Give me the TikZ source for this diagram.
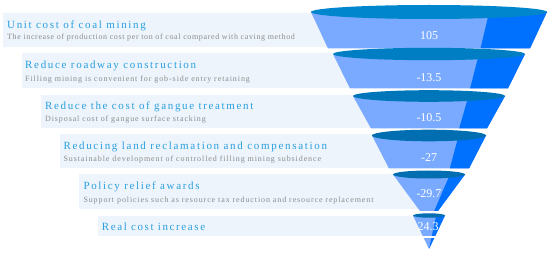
\documentclass[tikz,border=0pt]{standalone}
\usepackage{fontspec}
\usepackage{xstring}
\setmainfont{Liberation Serif}
\usetikzlibrary{calc}
\definecolor{barbg}{HTML}{EDF4FB}
\definecolor{ttlc}{HTML}{2A9FDF}
\definecolor{subc}{HTML}{8C8C8C}
\definecolor{bodyc}{HTML}{7AAAFF}
\definecolor{stripc}{HTML}{0070FF}
\definecolor{ellA}{HTML}{0086CC}
\definecolor{ellB}{HTML}{007EC4}
\definecolor{ellC}{HTML}{0076BA}
\definecolor{ellD}{HTML}{006EB0}
\newlength\natw
% #1 font size (pt), #2 target width (pt), #3 text
\newcommand\spc[3]{%
  \fontsize{#1}{#1}\selectfont
  \settowidth\natw{#3}%
  \StrLen{#3}[\nch]%
  \pgfmathsetmacro\lsp{100*(#2-\natw/1pt)/(\nch*#1)}%
  \edef\tmpfeat{\noexpand\addfontfeature{LetterSpace=\lsp}}\tmpfeat
  #3%
}
\newcommand\fseg[8]{% cx cy rx ry by hb f ellcolor
  \begin{scope}
    \clip (#1-#3,#2) -- (#1-#6,#5) -- (#1+#6,#5) -- (#1+#3,#2) -- cycle;
    \fill[bodyc] (#1-#3-2,#2-2) rectangle (#1+#3+2,#5+2);
    \fill[stripc] ($(#1+#7*#3,#2)!-1!(#1+#7*#6,#5)$) -- ($(#1+#7*#3,#2)!2!(#1+#7*#6,#5)$)
      -- (#1+#3+10,#5+60) -- (#1+#3+10,#2-60) -- cycle;
  \end{scope}
  \fill[#8] (#1,#2) ellipse [x radius=#3pt, y radius=#4pt];
}
\tikzset{
  bar/.style={fill=barbg, inner sep=0pt, anchor=north west},
  ttl/.style={text=ttlc, inner sep=0pt, anchor=base west},
  sub/.style={text=subc, inner sep=0pt, anchor=base west},
  num/.style={text=white, font=\fontsize{12}{14}\selectfont, inner sep=0pt}
}
\begin{document}
\begin{tikzpicture}[x=1pt,y=-1pt]
\useasboundingbox (0,0) rectangle (550,254);
% bars
\node[bar, minimum width=426pt, minimum height=34.6pt] (b1) at (3,12.7) {};
\node[bar, minimum width=407pt, minimum height=35pt] (b2) at (22,53.3) {};
\node[bar, minimum width=388pt, minimum height=33.3pt] (b3) at (41,95) {};
\node[bar, minimum width=369pt, minimum height=34pt] (b4) at (60,134.3) {};
\node[bar, minimum width=350pt, minimum height=35pt] (b5) at (79,174.3) {};
\node[bar, minimum width=331pt, minimum height=20pt] (b6) at (98,215.7) {};
% texts
\node[ttl] (t1) at (7,28.3) {\spc{11}{147}{Unit cost of coal mining}};
\node[sub] (s1) at (7,40) {\spc{8}{296}{The increase of production cost per ton of coal compared with caving method}};
\node[ttl] (t2) at (25,68.3) {\spc{11}{176}{Reduce roadway construction}};
\node[sub] (s2) at (25,81.7) {\spc{8}{232}{Filling mining is convenient for gob-side entry retaining}};
\node[ttl] (t3) at (45,109.3) {\spc{11}{218}{Reduce the cost of gangue treatment}};
\node[sub] (s3) at (45,121.7) {\spc{8}{166}{Disposal cost of gangue surface stacking}};
\node[ttl] (t4) at (63.3,149.3) {\spc{11}{272}{Reducing land reclamation and compensation}};
\node[sub] (s4) at (63.3,161.7) {\spc{8}{264}{Sustainable development of controlled filling mining subsidence}};
\node[ttl] (t5) at (83.3,189.3) {\spc{11}{121}{Policy relief awards}};
\node[sub] (s5) at (83.3,202.3) {\spc{8}{299}{Support policies such as resource tax reduction and resource replacement}};
\node[ttl] (t6) at (101.7,230.7) {\spc{11}{108}{Real cost increase}};
% funnel
\fseg{429}{12}{118}{7}{48.5}{101}{0.51}{ellA}
\fseg{429}{54}{96}{6.2}{88.5}{79}{0.52}{ellB}
\fseg{429}{96}{76}{5.8}{128.5}{58}{0.52}{ellC}
\fseg{429}{135.5}{57}{5.8}{168.5}{40}{0.52}{ellD}
\fseg{429}{174.5}{36}{4}{211}{9}{0.58}{ellD}
\fseg{429}{215.5}{16}{2.2}{249}{0}{0.45}{ellD}
\draw[white, line width=1.2pt] (410,237) -- (450,237);
% numbers
\node[num] (n1) at (429,35.5) {105};
\node[num] (n2) at (429,77.5) {-13.5};
\node[num] (n3) at (429,117.5) {-10.5};
\node[num] (n4) at (429,157.5) {-27};
\node[num] (n5) at (429,194) {-29.7};
\node[num] (n6) at (428,226.5) {24.3};
\end{tikzpicture}
\end{document}
